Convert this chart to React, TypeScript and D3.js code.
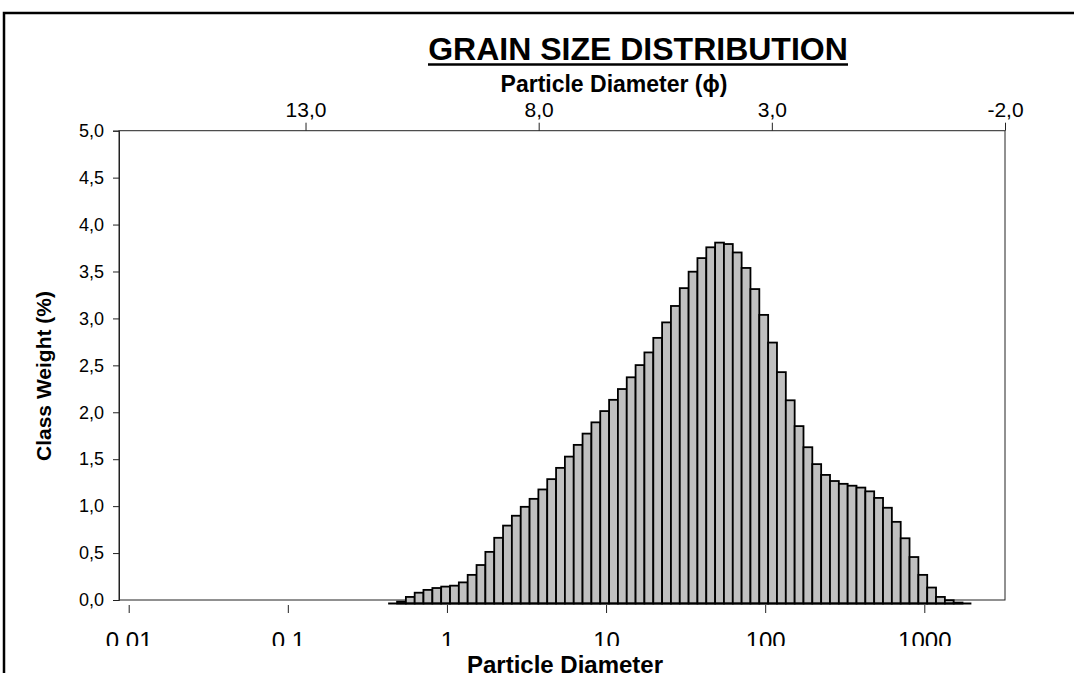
import React, { useEffect, useRef } from "react";
import * as d3 from "d3";

const classEdges = [
  0.427, 0.486, 0.552, 0.627, 0.712, 0.81, 0.92, 1.046, 1.188, 1.35, 1.535,
  1.744, 1.982, 2.252, 2.559, 2.909, 3.306, 3.756, 4.268, 4.851, 5.512, 6.264,
  7.117, 8.089, 9.194, 10.45, 11.87, 13.49, 15.33, 17.42, 19.81, 22.5, 25.57,
  29.06, 33.02, 37.52, 42.65, 48.46, 55.07, 62.58, 71.12, 80.81, 91.86, 104.4,
  118.6, 134.8, 153.2, 174.1, 197.8, 224.8, 255.5, 290.4, 329.9, 374.9, 426.1,
  484.2, 550.3, 625.4, 710.7, 807.6, 917.9, 1043, 1185, 1347, 1530, 1739, 1977,
];

// class weight (%) for each size class
const classWeights = [
  0, 0.02, 0.07, 0.115, 0.145, 0.165, 0.18, 0.19, 0.225, 0.305, 0.41, 0.55,
  0.7, 0.83, 0.935, 1.03, 1.115, 1.215, 1.325, 1.445, 1.565, 1.69, 1.81, 1.93,
  2.05, 2.17, 2.285, 2.41, 2.54, 2.675, 2.83, 2.995, 3.17, 3.36, 3.535, 3.68,
  3.795, 3.845, 3.83, 3.74, 3.575, 3.35, 3.075, 2.78, 2.465, 2.165, 1.89,
  1.665, 1.485, 1.37, 1.305, 1.275, 1.255, 1.235, 1.195, 1.125, 1.02, 0.87,
  0.695, 0.495, 0.305, 0.17, 0.07, 0.035, 0.01, 0,
];

const weightTicks = [0, 0.5, 1, 1.5, 2, 2.5, 3, 3.5, 4, 4.5, 5];
const phiTicks = [13, 8, 3, -2];
const sizeTicks = [0.01, 0.1, 1, 10, 100, 1000];
const sizeTickLabels = ["0,01", "0,1", "1", "10", "100", "1000"];

const App = () => {
  const divRef = useRef<HTMLDivElement>(null);

  useEffect(() => {
    document.body.style.margin = "0";
    const width = 1074;
    const height = 673;
    const font = "'Liberation Sans', Arial, sans-serif";
    const plot = { left: 119, right: 1005, top: 130.7, bottom: 600 };

    const svg = d3
      .create("svg")
      .attr("width", width)
      .attr("height", height)
      .style("display", "block")
      .style("font-family", font);

    svg.append("rect").attr("width", width).attr("height", height).attr("fill", "#fff");

    // outer chart border (extends past the picture)
    svg
      .append("rect")
      .attr("x", 4)
      .attr("y", 13)
      .attr("width", 1200)
      .attr("height", 800)
      .attr("fill", "none")
      .attr("stroke", "#000")
      .attr("stroke-width", 2.5);

    // scales
    const yScale = d3.scaleLinear().domain([0, 5]).range([plot.bottom, plot.top]);
    const yBar = d3.scaleLinear().domain([0, 5]).range([603.5, 134.2]);
    const phiScale = d3.scaleLinear().domain([17, -2]).range([plot.left, plot.right]);
    const sizeScale = d3.scaleLog().domain([0.01, 1000]).range([128.7, 924.3]);
    const comma = (v: number) => d3.format(".1f")(v).replace(".", ",").replace("−", "-");

    // plot area frame
    svg
      .append("rect")
      .attr("x", plot.left)
      .attr("y", plot.top)
      .attr("width", plot.right - plot.left)
      .attr("height", plot.bottom - plot.top)
      .attr("fill", "none")
      .attr("stroke", "#222")
      .attr("stroke-width", 1);

    // left axis
    const yAxis = svg.append("g").attr("transform", `translate(${plot.left},0)`);
    yAxis
      .call(d3.axisLeft(yScale).tickValues(weightTicks).tickSize(6).tickPadding(9).tickFormat((d) => comma(+d)))
      .call((g) => g.select(".domain").attr("stroke", "#222"));
    yAxis.selectAll("line").attr("stroke", "#222");
    yAxis.selectAll("text").attr("font-size", 18).attr("font-family", font).attr("fill", "#000");

    // top phi axis
    const phiAxis = svg.append("g").attr("transform", `translate(0,${plot.top})`);
    phiAxis.call(d3.axisTop(phiScale).tickValues(phiTicks).tickSize(8).tickPadding(6).tickFormat((d) => comma(+d)));
    phiAxis.select(".domain").remove();
    phiAxis.selectAll("line").attr("stroke", "#222");
    phiAxis.selectAll("text").attr("font-size", 21).attr("font-family", font).attr("fill", "#000");

    // bars
    svg
      .append("g")
      .selectAll("rect")
      .data(classWeights)
      .join("rect")
      .attr("x", (_, i) => sizeScale(classEdges[i]))
      .attr("y", (d) => yBar(d))
      .attr("width", (_, i) => sizeScale(classEdges[i + 1]) - sizeScale(classEdges[i]))
      .attr("height", (d) => yBar(0) - yBar(d))
      .attr("fill", "#c0c0c0")
      .attr("stroke", "#000")
      .attr("stroke-width", 1.8);

    // bar baseline (zero-height classes show as a thick line)
    svg
      .append("line")
      .attr("x1", sizeScale(classEdges[0]))
      .attr("x2", sizeScale(classEdges[classEdges.length - 1]))
      .attr("y1", yBar(0))
      .attr("y2", yBar(0))
      .attr("stroke", "#000")
      .attr("stroke-width", 2);

    // bottom log axis, its labels clipped by the chart object
    svg
      .append("clipPath")
      .attr("id", "bottom-clip")
      .append("rect")
      .attr("x", 0)
      .attr("y", 0)
      .attr("width", width)
      .attr("height", 646);
    const xAxis = svg
      .append("g")
      .attr("clip-path", "url(#bottom-clip)")
      .append("g")
      .attr("transform", `translate(0,605)`);
    xAxis.call(
      d3
        .axisBottom(sizeScale)
        .tickValues(sizeTicks)
        .tickSize(8)
        .tickPadding(19)
        .tickFormat((_, i) => sizeTickLabels[i])
    );
    xAxis.select(".domain").remove();
    xAxis.selectAll("line").attr("stroke", "#222");
    xAxis.selectAll("text").attr("font-size", 24).attr("font-family", font).attr("fill", "#000");

    // titles
    svg
      .append("text")
      .attr("x", 638)
      .attr("y", 60)
      .attr("text-anchor", "middle")
      .attr("font-size", 32)
      .attr("font-weight", "bold")
      .text("GRAIN SIZE DISTRIBUTION");
    svg
      .append("line")
      .attr("x1", 428)
      .attr("x2", 848)
      .attr("y1", 64.5)
      .attr("y2", 64.5)
      .attr("stroke", "#000")
      .attr("stroke-width", 2.5);

    svg
      .append("text")
      .attr("x", 614)
      .attr("y", 92)
      .attr("text-anchor", "middle")
      .attr("font-size", 23)
      .attr("font-weight", "bold")
      .text("Particle Diameter (ϕ)");

    svg
      .append("text")
      .attr("transform", "translate(51,376) rotate(-90)")
      .attr("text-anchor", "middle")
      .attr("font-size", 21)
      .attr("font-weight", "bold")
      .text("Class Weight (%)");

    svg
      .append("text")
      .attr("x", 565)
      .attr("y", 673)
      .attr("text-anchor", "middle")
      .attr("font-size", 24)
      .attr("font-weight", "bold")
      .text("Particle Diameter");

    if (divRef.current) {
      divRef.current.innerHTML = "";
      divRef.current.appendChild(svg.node()!);
    }
  }, []);

  return <div ref={divRef} />;
};

export default App;
